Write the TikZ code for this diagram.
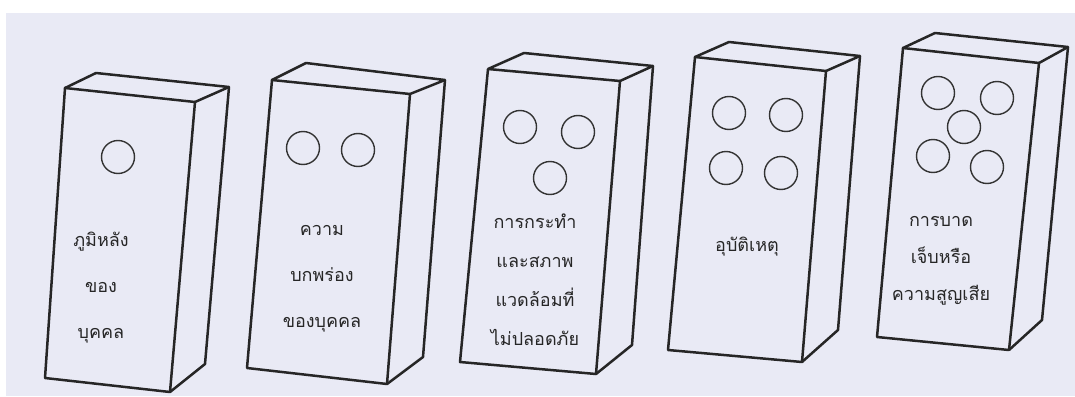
\documentclass[tikz,border=0pt]{standalone}
\usepackage{fontspec}
\newfontfamily\thaifont[Script=Thai]{Loma}
\usepackage{tikz}
\usetikzlibrary{positioning}
\definecolor{paper}{RGB}{233,234,245}

\begin{document}
\begin{tikzpicture}[x=1pt, y=-1pt,
    edge/.style={line width=2.5pt, line join=round, black!85},
    hole/.style={draw=black!80, line width=1.4pt, circle, minimum size=33pt, inner sep=0pt},
    lbl/.style={font=\thaifont\fontsize{18}{#1}\selectfont, align=center, text=black!85}]
  \useasboundingbox (0,0) rectangle (1075,396);
  \fill[white] (0,0) rectangle (1075,396);
  \fill[paper] (6,13) rectangle (1075,396);
  % domino 1
  \coordinate (a1) at (65,88);   \coordinate (b1) at (195,102);
  \coordinate (c1) at (170,392); \coordinate (d1) at (45,378);
  \coordinate (e1) at (96,73);   \coordinate (f1) at (229,87);
  \coordinate (g1) at (205,364);
  \draw[edge] (a1) -- (b1) -- (c1) -- (d1) -- cycle;
  \draw[edge] (a1) -- (e1) -- (f1) -- (b1);
  \draw[edge] (f1) -- (g1) -- (c1);
  \node[hole] (h11) at (118,157) {};
  \node[lbl=46] (t1) at (101,288) {ภูมิหลัง\\ของ\\บุคคล};
  % domino 2
  \coordinate (a2) at (272,80);  \coordinate (b2) at (410,94);
  \coordinate (c2) at (387,384); \coordinate (d2) at (247,368);
  \coordinate (e2) at (306,63);  \coordinate (f2) at (445,80);
  \coordinate (g2) at (423,357);
  \draw[edge] (a2) -- (b2) -- (c2) -- (d2) -- cycle;
  \draw[edge] (a2) -- (e2) -- (f2) -- (b2);
  \draw[edge] (f2) -- (g2) -- (c2);
  \node[hole] (h21) at (303,148) {};
  \node[hole] (h22) at (358,150) {};
  \node[lbl=46] (t2) at (322,279) {ความ\\บกพร่อง\\ของบุคคล};
  % domino 3
  \coordinate (a3) at (488,69);  \coordinate (b3) at (620,81);
  \coordinate (c3) at (596,374); \coordinate (d3) at (460,362);
  \coordinate (e3) at (524,53);  \coordinate (f3) at (653,66);
  \coordinate (g3) at (632,345);
  \draw[edge] (a3) -- (b3) -- (c3) -- (d3) -- cycle;
  \draw[edge] (a3) -- (e3) -- (f3) -- (b3);
  \draw[edge] (f3) -- (g3) -- (c3);
  \node[hole] (h31) at (520,127) {};
  \node[hole] (h32) at (578,132) {};
  \node[hole] (h33) at (550,178) {};
  \node[lbl=39] (t3) at (535,280) {การกระทำ\\และสภาพ\\แวดล้อมที่\\ไม่ปลอดภัย};
  % domino 4
  \coordinate (a4) at (695,57);  \coordinate (b4) at (826,71);
  \coordinate (c4) at (802,362); \coordinate (d4) at (668,350);
  \coordinate (e4) at (729,42);  \coordinate (f4) at (860,56);
  \coordinate (g4) at (838,330);
  \draw[edge] (a4) -- (b4) -- (c4) -- (d4) -- cycle;
  \draw[edge] (a4) -- (e4) -- (f4) -- (b4);
  \draw[edge] (f4) -- (g4) -- (c4);
  \node[hole] (h41) at (729,113) {};
  \node[hole] (h42) at (786,115) {};
  \node[hole] (h43) at (726,168) {};
  \node[hole] (h44) at (781,173) {};
  \node[lbl=40] (t4) at (747,247) {อุบัติเหตุ};
  % domino 5
  \coordinate (a5) at (903,48);  \coordinate (b5) at (1039,63);
  \coordinate (c5) at (1009,350); \coordinate (d5) at (877,337);
  \coordinate (e5) at (935,33);  \coordinate (f5) at (1068,47);
  \coordinate (g5) at (1042,320);
  \draw[edge] (a5) -- (b5) -- (c5) -- (d5) -- cycle;
  \draw[edge] (a5) -- (e5) -- (f5) -- (b5);
  \draw[edge] (f5) -- (g5) -- (c5);
  \node[hole] (h51) at (938,93) {};
  \node[hole] (h52) at (997,98) {};
  \node[hole] (h53) at (964,127) {};
  \node[hole] (h54) at (933,156) {};
  \node[hole] (h55) at (987,167) {};
  \node[lbl=37] (t5) at (941,261) {การบาด\\เจ็บหรือ\\ความสูญเสีย};
\end{tikzpicture}
\end{document}
